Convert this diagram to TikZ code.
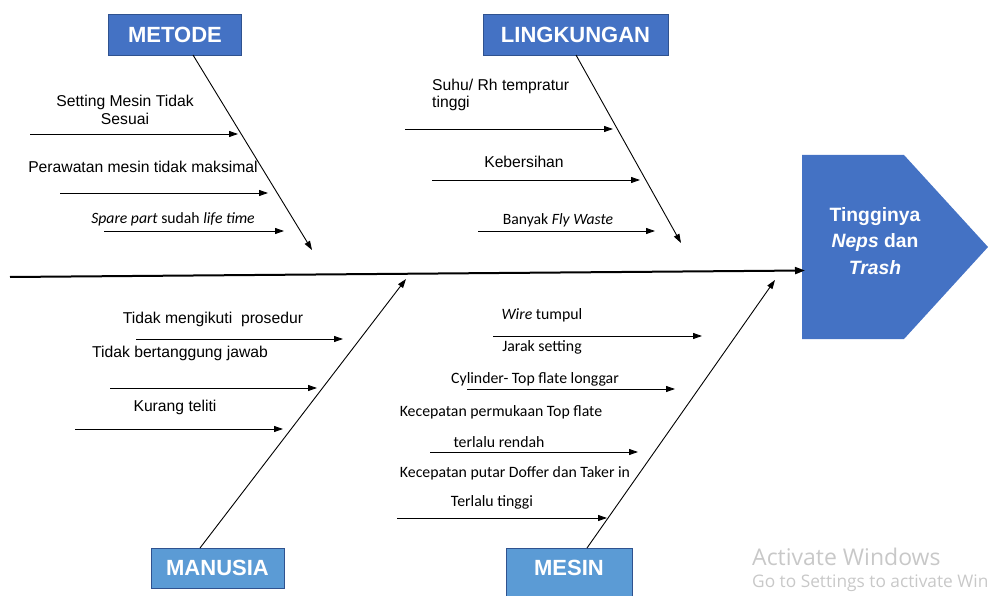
\documentclass[tikz,border=0pt]{standalone}
\usepackage{fontspec}
\setmainfont{Liberation Sans}
\newfontfamily\calfont{Carlito}
\newfontfamily\winfont{Open Sans}
\usetikzlibrary{arrows.meta}
\definecolor{darkblue}{HTML}{4472C4}
\definecolor{lightblue}{HTML}{5B9BD5}
\definecolor{borderblue}{HTML}{2F528F}
\definecolor{wingray}{HTML}{C8C8C8}
\begin{document}
\begin{tikzpicture}[x=1pt,y=-1pt,
  cat/.style={draw=borderblue, line width=0.6pt, inner sep=0pt, text=white, font=\fontsize{22}{26}\selectfont\bfseries},
  lbl/.style={inner sep=0pt, font=\fontsize{15.7}{18}\selectfont},
  clbl/.style={inner sep=0pt, font=\calfont\fontsize{15.8}{18}\selectfont},
  sml/.style={inner sep=0pt, font=\calfont\fontsize{15.7}{18}\selectfont},
  bone/.style={line width=0.9pt, -{Triangle[length=9pt,width=6pt]}},
  sub/.style={line width=0.9pt, -{Triangle[length=9pt,width=6pt]}},
  spine/.style={line width=2pt, -{Triangle[length=10pt,width=7pt]}},
  win/.style={inner sep=0pt, anchor=west, text=wingray},
]
\useasboundingbox (0,0) rectangle (988,596);

% head
\fill[darkblue] (802,155) -- (904,155) -- (988,247) -- (904,339) -- (802,339) -- cycle;
\node[inner sep=0pt, text=white, align=center, font=\fontsize{19.3}{26.5}\selectfont\bfseries] (head) at (875,241)
  {Tingginya\\\textit{Neps} dan\\\textit{Trash}};

% category boxes
\node[cat, fill=darkblue, minimum width=133pt, minimum height=41pt] (metode) at (175,34.5) {METODE};
\node[cat, fill=darkblue, minimum width=185pt, minimum height=41pt] (lingk) at (575.5,34.5) {LINGKUNGAN};
\node[cat, fill=lightblue, minimum width=133pt, minimum height=40pt] (manusia) at (217.5,568) {MANUSIA};
\fill[lightblue, draw=borderblue, line width=0.6pt] (506,548) rectangle (632,597);
\node[inner sep=0pt, text=white, font=\fontsize{22}{26}\selectfont\bfseries] (mesin) at (569,568) {MESIN};

% spine
\coordinate (sp0) at (10,277);
\coordinate (sp1) at (805,270.5);
\draw[spine] (sp0) -- (sp1);

% bones
\coordinate (b1s) at (193,55);   \coordinate (b1e) at (312,250);
\coordinate (b2s) at (576,55);   \coordinate (b2e) at (681,243);
\coordinate (b3s) at (200,548);  \coordinate (b3e) at (406,279);
\coordinate (b4s) at (587,548);  \coordinate (b4e) at (775,280);
\draw[bone] (b1s) -- (b1e);
\draw[bone] (b2s) -- (b2e);
\draw[bone] (b3s) -- (b3e);
\draw[bone] (b4s) -- (b4e);

% METODE causes
\node[lbl, align=center] (t1) at (125,110) {Setting Mesin Tidak\\Sesuai};
\node[lbl] (t2) at (143,167) {Perawatan mesin tidak maksimal};
\node[sml] (t3) at (173,219) {\textit{Spare part} sudah \textit{life time}};
\coordinate (m1s) at (30,134);  \coordinate (m1e) at (238,134);
\coordinate (m2s) at (60,193);  \coordinate (m2e) at (268,193);
\coordinate (m3s) at (104,231); \coordinate (m3e) at (284,231);
\draw[sub] (m1s) -- (m1e);
\draw[sub] (m2s) -- (m2e);
\draw[sub] (m3s) -- (m3e);

% LINGKUNGAN causes
\node[lbl, align=left, anchor=west, font=\fontsize{15.7}{17}\selectfont] (l1) at (432,94.5) {Suhu/ Rh tempratur\\tinggi};
\node[lbl] (l2) at (524,162) {Kebersihan};
\node[sml] (l3) at (558,220) {Banyak \textit{Fly Waste}};
\coordinate (k1s) at (405,129); \coordinate (k1e) at (613,129);
\coordinate (k2s) at (432,180); \coordinate (k2e) at (640,180);
\coordinate (k3s) at (478,231); \coordinate (k3e) at (655,231);
\draw[sub] (k1s) -- (k1e);
\draw[sub] (k2s) -- (k2e);
\draw[sub] (k3s) -- (k3e);

% MANUSIA causes
\node[lbl] (h1) at (213,319) {Tidak mengikuti\ \ prosedur};
\node[lbl] (h2) at (180,353) {Tidak bertanggung jawab};
\node[lbl] (h3) at (175,407) {Kurang teliti};
\coordinate (u1s) at (136,339); \coordinate (u1e) at (343,339);
\coordinate (u2s) at (110,388); \coordinate (u2e) at (317,388);
\coordinate (u3s) at (75,429);  \coordinate (u3e) at (283,429);
\draw[sub] (u1s) -- (u1e);
\draw[sub] (u2s) -- (u2e);
\draw[sub] (u3s) -- (u3e);

% MESIN causes
\node[clbl] (s1) at (542,315) {\textit{Wire} tumpul};
\node[clbl] (s2) at (542,347) {Jarak setting};
\node[clbl] (s3) at (535,379) {Cylinder- Top flate longgar};
\node[clbl] (s4) at (501,412) {Kecepatan permukaan Top flate};
\node[clbl] (s5) at (499,442) {terlalu rendah};
\node[clbl] (s6) at (515,473) {Kecepatan putar Doffer dan Taker in};
\node[clbl] (s7) at (492,502) {Terlalu tinggi};
\coordinate (e1s) at (493,336); \coordinate (e1e) at (702,336);
\coordinate (e2s) at (467,389); \coordinate (e2e) at (675,389);
\coordinate (e3s) at (430,452); \coordinate (e3e) at (638,452);
\coordinate (e4s) at (397,518); \coordinate (e4e) at (607,518);
\draw[sub] (e1s) -- (e1e);
\draw[sub] (e2s) -- (e2e);
\draw[sub] (e3s) -- (e3e);
\draw[sub] (e4s) -- (e4e);

% watermark
\node[win, font=\winfont\fontsize{23}{27}\selectfont] (w1) at (752,557) {Activate Windows};
\node[win, font=\winfont\fontsize{17.3}{20}\selectfont] (w2) at (752,583) {Go to Settings to activate Win};
\end{tikzpicture}
\end{document}
